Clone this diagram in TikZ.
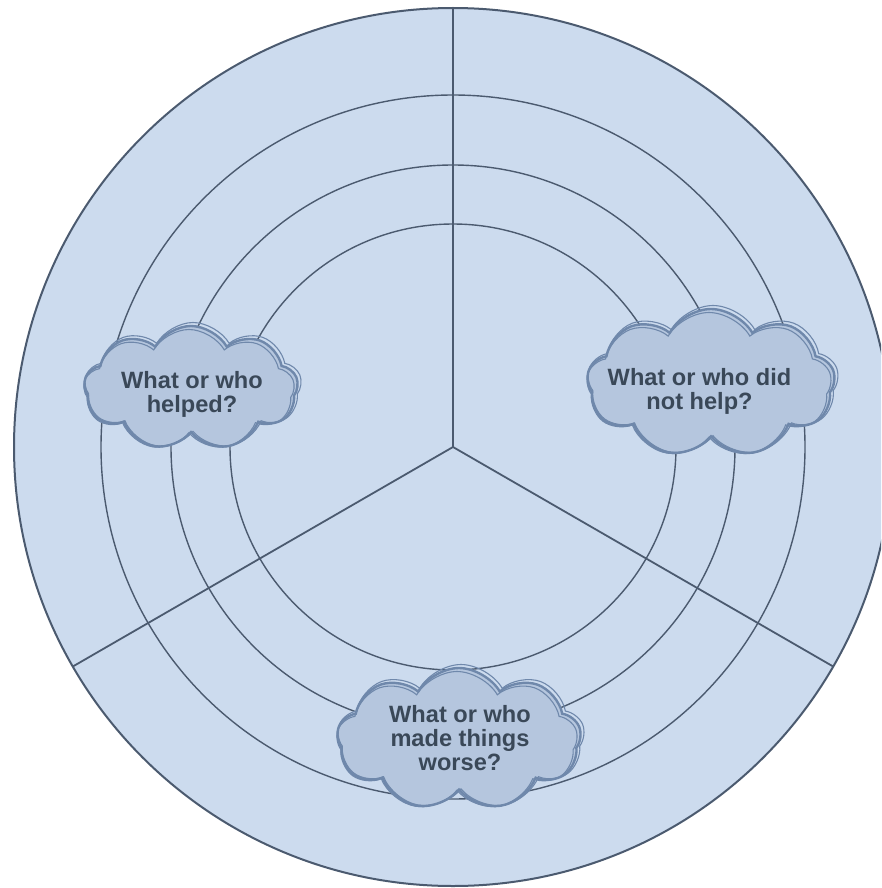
\documentclass[tikz,border=0pt]{standalone}
\usepackage{fontspec}
\setmainfont{Liberation Sans}
\usetikzlibrary{shapes.symbols,calc}
\definecolor{bgfill}{HTML}{CCDBEE}
\definecolor{ringline}{HTML}{4B5A6F}
\definecolor{cloudfill}{HTML}{B5C6DE}
\definecolor{cloudline}{HTML}{6F88AB}
\definecolor{txt}{HTML}{3A4858}
\tikzset{
  ring/.style={draw=ringline, line width=1.4pt},
  outerring/.style={draw=ringline, line width=2pt, fill=bgfill},
  spoke/.style={draw=ringline, line width=1.8pt},
  cloudbox/.style={cloud, cloud puffs=9, cloud puff arc=120, cloud ignores aspect, inner sep=0pt, fill=cloudfill, draw=cloudline, line width=2.4pt},
  cloudsketch/.style={cloud, cloud puffs=9, cloud puff arc=120, cloud ignores aspect, inner sep=0pt, draw=cloudline, line width=1.1pt},
  qtext/.style={text=txt, align=center, font=\fontsize{23.6}{24}\selectfont\bfseries, inner sep=0pt},
}
\begin{document}
\begin{tikzpicture}[x=1pt,y=-1pt]
\useasboundingbox (0,0) rectangle (881,888);
\clip (0,0) rectangle (881,888);
\coordinate (c) at (453,447);
\path[outerring] (c) circle[radius=439pt];
\path[ring] (c) circle[radius=352pt];
\path[ring] (c) circle[radius=282pt];
\path[ring] (c) circle[radius=223pt];
\coordinate (top) at ($(c)+(-90:439)$);
\coordinate (ll) at ($(c)+(150:439)$);
\coordinate (lr) at ($(c)+(30:439)$);
\draw[spoke] (c) -- (top);
\draw[spoke] (c) -- (ll);
\draw[spoke] (c) -- (lr);
% left cloud
\node[cloudbox, minimum width=214pt, minimum height=124pt] (cl) at (191,388) {};
\node[cloudsketch, minimum width=217pt, minimum height=127pt, shape border rotate=6] (cl2) at (193,386) {};
\node[cloudsketch, minimum width=211pt, minimum height=121pt, shape border rotate=-5] (cl3) at (189,390) {};
\node[qtext] (tl) at (192,394) {What or who\\helped?};
% right cloud
\node[cloudbox, minimum width=248pt, minimum height=148pt] (cr) at (711,383) {};
\node[cloudsketch, minimum width=251pt, minimum height=151pt, shape border rotate=6] (cr2) at (713,381) {};
\node[cloudsketch, minimum width=245pt, minimum height=145pt, shape border rotate=-5] (cr3) at (709,385) {};
\node[qtext] (tr) at (699.5,391) {What or who did\\not help?};
% bottom cloud
\node[cloudbox, minimum width=244pt, minimum height=142pt] (cb) at (459,739) {};
\node[cloudsketch, minimum width=247pt, minimum height=145pt, shape border rotate=6] (cb2) at (461,737) {};
\node[cloudsketch, minimum width=241pt, minimum height=139pt, shape border rotate=-5] (cb3) at (457,741) {};
\node[qtext] (tb) at (460,738) {What or who\\made things\\worse?};
\end{tikzpicture}
\end{document}
